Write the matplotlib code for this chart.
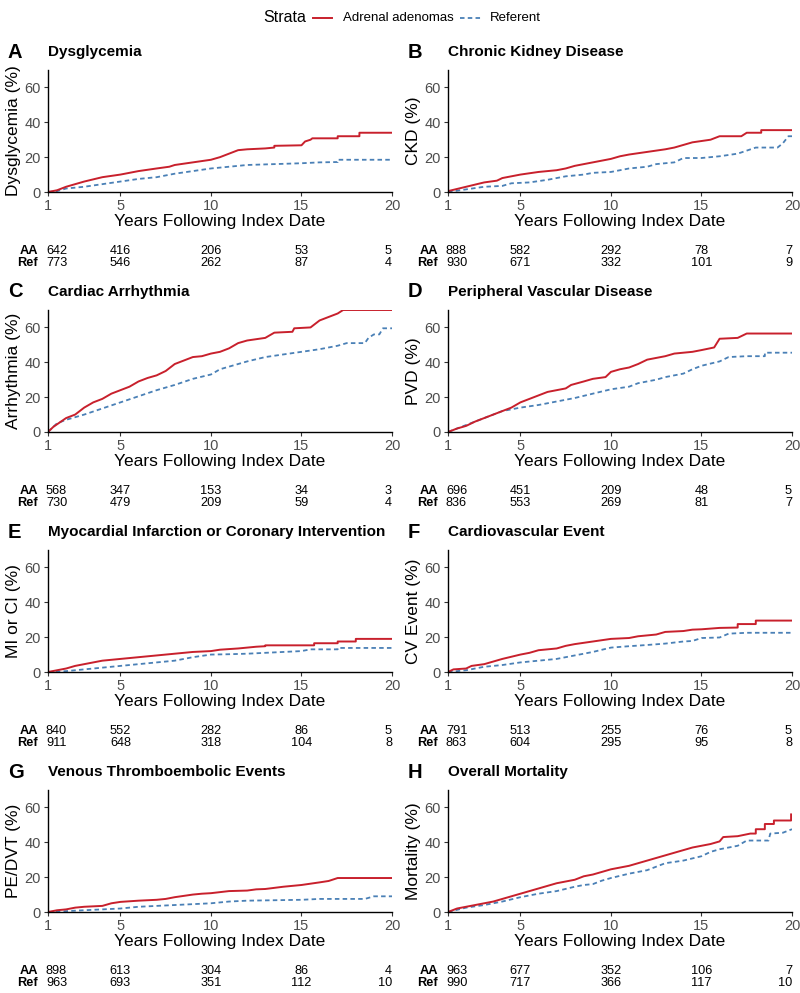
import numpy as np
import matplotlib
matplotlib.use('Agg')
import matplotlib.pyplot as plt
from matplotlib.lines import Line2D

plt.rcParams['font.family'] = ['Liberation Sans', 'DejaVu Sans']

## DATA ##
letters = ['A', 'B', 'C', 'D', 'E', 'F', 'G', 'H']
titles = ['Dysglycemia', 'Chronic Kidney Disease', 'Cardiac Arrhythmia',
          'Peripheral Vascular Disease',
          'Myocardial Infarction or Coronary Intervention',
          'Cardiovascular Event', 'Venous Thromboembolic Events',
          'Overall Mortality']
ylabels = ['Dysglycemia (%)', 'CKD (%)', 'Arrhythmia (%)', 'PVD (%)',
           'MI or CI (%)', 'CV Event (%)', 'PE/DVT (%)', 'Mortality (%)']
strata = ['Adrenal adenomas', 'Referent']
table_rows = ['AA', 'Ref']
table_years = [1, 5, 10, 15, 20]

# cumulative incidence (%): (year, value) pairs
aa_curves = [
    [(1, 0), (1.5, 1), (2, 3), (3, 6), (4, 8.5), (5, 10), (6, 12), (7, 13.5), (7.7, 14.5), (8, 15.5), (9, 17),
     (10, 18.5), (10.5, 20), (11, 22), (11.5, 24), (12, 24.5), (13, 25), (13.5, 25.5), (13.5, 26.5), (15, 26.8),
     (15.2, 29), (15.5, 30), (15.6, 30.8), (17, 30.8), (17, 32), (18.2, 32), (18.2, 34), (20, 34)],
    [(1, 0.5), (2, 3), (3, 5.5), (3.7, 6.5), (4, 8), (5, 10), (6, 11.5), (7, 12.5), (7.5, 13.5), (8, 15), (9, 17),
     (10, 19), (10.5, 20.5), (11, 21.5), (12, 23), (13, 24.5), (13.5, 25.5), (14, 27), (14.5, 28.5), (15.5, 30),
     (16, 32), (17.2, 32), (17.5, 34), (18.3, 34), (18.3, 35.5), (20, 35.5)],
    [(1, 0), (1.3, 3), (2, 8), (2.5, 10), (3, 14), (3.5, 17), (4, 19), (4.5, 22), (5, 24), (5.5, 26), (6, 29),
     (6.5, 31), (7, 32.5), (7.5, 35), (8, 39), (8.5, 41), (9, 43), (9.5, 43.5), (10, 45), (10.5, 46), (11, 48),
     (11.5, 51), (12, 52.5), (13, 54), (13.5, 57), (14.5, 57.5), (14.6, 59.5), (15.5, 60), (16, 64), (16.5, 66),
     (17, 68), (17.3, 70), (20, 70)],
    [(1, 0), (1.5, 2), (2, 3.5), (2.5, 6), (3, 8), (3.5, 10), (4, 12), (4.5, 14), (5, 17), (5.5, 19), (6, 21),
     (6.5, 23), (7, 24), (7.5, 25), (7.8, 27), (8.5, 29), (9, 30.5), (9.7, 31.5), (10, 34.5), (10.5, 36), (11, 37),
     (11.5, 39), (12, 41.5), (12.5, 42.5), (13, 43.5), (13.5, 45), (14.5, 46), (15, 47), (15.7, 48.5), (16, 53.5),
     (17, 54), (17.3, 55.5), (17.5, 56.5), (20, 56.5)],
    [(1, 0), (1.5, 1), (2, 2), (2.5, 3.5), (3, 4.5), (3.5, 5.5), (4, 6.5), (5, 7.5), (6, 8.5), (7, 9.5), (7.5, 10),
     (8, 10.5), (9, 11.5), (10, 12), (10.5, 12.8), (11.5, 13.5), (12.5, 14.5), (13, 14.8), (13, 15.3), (15.7, 15.3),
     (15.7, 16.5), (17, 16.5), (17, 17.5), (18, 17.5), (18, 19), (20, 19)],
    [(1, 0), (1.3, 1.5), (2, 2), (2.3, 3.5), (3, 4.5), (3.5, 6), (4, 7.5), (5, 10), (5.5, 11), (6, 12.5), (7, 13.5),
     (7.5, 15), (8, 16), (9, 17.5), (10, 19), (11, 19.5), (11.5, 20.5), (12, 21), (12.5, 21.5), (13, 23), (14, 23.5),
     (14.5, 24.3), (15, 24.5), (16, 25.3), (17, 25.5), (17, 27.5), (18, 27.5), (18, 29.5), (20, 29.5)],
    [(1, 0), (1.5, 1), (2, 1.5), (2.5, 2.5), (3, 3), (4, 3.5), (4.5, 5), (5, 5.8), (6, 6.5), (7, 7), (7.5, 7.5),
     (8, 8.5), (9, 10), (9.5, 10.5), (10, 10.8), (11, 12), (12, 12.3), (12.5, 13), (13, 13.2), (14, 14.5),
     (15, 15.5), (16, 17), (16.5, 17.8), (17, 19.5), (20, 19.5)],
    [(1, 0), (1.5, 2), (2, 3), (2.5, 4), (3, 5), (3.5, 6), (4, 7.5), (4.5, 9), (5, 10.5), (5.5, 12), (6, 13.5),
     (6.5, 15), (7, 16.5), (7.5, 17.5), (8, 18.5), (8.5, 20.5), (9, 21.5), (9.5, 23), (10, 24.5), (10.5, 25.5),
     (11, 26.5), (11.5, 28), (12, 29.5), (12.5, 31), (13, 32.5), (13.5, 34), (14, 35.5), (14.5, 37), (15, 38),
     (15.5, 39), (16, 40.5), (16.2, 43), (17, 43.5), (17.7, 45), (18, 45), (18, 47.5), (18.5, 47.5), (18.5, 50.5),
     (19, 50.5), (19, 52.5), (19.95, 52.5), (19.95, 56)],
]
ref_curves = [
    [(1, 0), (1.5, 0.5), (2, 2), (3, 3), (4, 4.5), (5, 6), (6, 7.5), (7, 8.5), (8, 10.5), (9, 12), (10, 13.5),
     (11, 14.5), (12, 15.5), (13.5, 16), (15, 16.5), (16, 17), (17, 17.2), (17, 18.5), (20, 18.5)],
    [(1, 0), (2, 1.5), (3, 3), (4, 3.5), (4.5, 5), (5.5, 5.5), (6.5, 7), (7.5, 9), (8.5, 10), (9, 11), (10, 11.5),
     (10.5, 12.5), (11, 13.5), (12, 14.5), (12.5, 16), (13.5, 17), (14, 19.5), (15, 19.5), (16, 20.5), (17, 22),
     (18, 25.5), (19.2, 25.5), (19.5, 28), (19.8, 32), (20, 32)],
    [(1, 0), (1.5, 5), (2, 7), (3, 10), (4, 13.5), (5, 17), (6, 20.5), (7, 24), (8, 27), (9, 30.5), (10, 33),
     (10.5, 36), (11, 37.5), (12, 40.5), (13, 43), (14, 44.5), (15, 46), (16, 47.5), (17, 49.5), (17.5, 51),
     (18.5, 51), (18.7, 54), (19, 56), (19.3, 56), (19.5, 59.5), (20, 59.5)],
    [(1, 0), (1.5, 2), (2, 4), (2.5, 6), (3, 8), (3.5, 10), (4, 12), (5, 14), (6, 15.5), (7, 17.5), (8, 19.5),
     (9, 22), (10, 24.5), (11, 26), (11.5, 28), (12.5, 30), (13, 31.5), (14, 33.5), (14.5, 36), (15, 38), (16, 40.5),
     (16.5, 43), (17.5, 43.5), (18.5, 43.5), (18.5, 45.5), (20, 45.5)],
    [(1, 0), (2, 0.5), (3, 1.5), (4, 2.5), (5, 3.5), (6, 4.5), (7, 5.5), (8, 6.5), (9, 8.5), (10, 10), (11, 10.2),
     (12, 10.5), (13, 11), (14, 11.5), (15, 12), (15.5, 13), (17, 13), (17, 13.8), (20, 13.8)],
    [(1, 0), (2, 1), (2.5, 2), (3, 3), (4, 4), (5, 5.5), (6, 6.5), (7, 7.5), (8, 9.5), (9, 11.5), (10, 14),
     (11, 14.8), (12, 15.5), (13, 16.3), (14, 17.5), (14.5, 17.8), (15, 19.5), (16, 19.8), (16.5, 22), (17.5, 22.5),
     (20, 22.5)],
    [(1, 0), (2, 0.5), (3, 1), (4, 1.5), (5, 2), (6, 3), (7, 3.5), (8, 4), (9, 4.5), (10, 5), (11, 6), (12, 6.5),
     (15, 7), (16, 7.5), (18.5, 7.5), (19, 9), (20, 9)],
    [(1, 0), (2, 2.5), (3, 4), (4, 6), (5, 8.5), (6, 10.5), (7, 12), (8, 14.5), (8.5, 15.5), (9, 16), (9.5, 18),
     (10, 19.5), (11, 22), (12, 24), (12.5, 26), (13, 28), (14, 29.5), (15, 32), (15.5, 34.5), (16, 36), (17, 38),
     (17.5, 41), (18.7, 41), (18.8, 45), (19.5, 45.5), (20, 47.5)],
]
aa_risk = [[642, 416, 206, 53, 5], [888, 582, 292, 78, 7], [568, 347, 153, 34, 3],
           [696, 451, 209, 48, 5], [840, 552, 282, 86, 5], [791, 513, 255, 76, 5],
           [898, 613, 304, 86, 4], [963, 677, 352, 106, 7]]
ref_risk = [[773, 546, 262, 87, 4], [930, 671, 332, 101, 9], [730, 479, 209, 59, 4],
            [836, 553, 269, 81, 7], [911, 648, 318, 104, 8], [863, 604, 295, 95, 8],
            [963, 693, 351, 112, 10], [990, 717, 366, 117, 10]]

red = '#C8202C'
blue = '#4A80B6'
dash = (0, (2.5, 1.8))

## PLOT ##
W, H = 800, 993
fig = plt.figure(figsize=(W / 100, H / 100), dpi=100)

def fx(px):
    return px / W

def fy(py):
    return 1 - py / H

col_x = [48, 448]
ax_w = 344
for i in range(8):
    row, col = i // 2, i % 2
    x0 = col_x[col]
    top = 70 + 240 * row
    bot = top + 122
    ax = fig.add_axes([fx(x0), fy(bot), fx(ax_w), (bot - top) / H])
    rt, rv = zip(*ref_curves[i])
    at, av = zip(*aa_curves[i])
    ax.plot(rt, rv, color=blue, lw=1.3, linestyle=dash)
    ax.plot(at, av, color=red, lw=1.4)
    ax.set_xlim(1, 20)
    ax.set_ylim(0, 70)
    ax.set_xticks(table_years)
    ax.set_yticks([0, 20, 40, 60])
    for s in ['top', 'right']:
        ax.spines[s].set_visible(False)
    for s in ['left', 'bottom']:
        ax.spines[s].set_linewidth(1.0)
        ax.spines[s].set_color('black')
    ax.tick_params(labelsize=10.5, labelcolor='#4D4D4D', color='#333333',
                   length=3, width=0.8, pad=2)
    ax.set_xlabel('Years Following Index Date', fontsize=12.5, labelpad=1)
    ax.set_ylabel(ylabels[i], fontsize=12.5, labelpad=3)

    # panel letter and title
    ty = top - 18
    fig.text(fx(x0 - 40), fy(ty), letters[i], fontsize=14.5, fontweight='bold',
             ha='left', va='center')
    fig.text(fx(x0), fy(ty), titles[i], fontsize=11, fontweight='bold',
             ha='left', va='center')

    # risk table
    for r, (name, vals) in enumerate(zip(table_rows, [aa_risk[i], ref_risk[i]])):
        yy = bot + 58.5 + 12.5 * r
        fig.text(fx(x0 - 10), fy(yy), name, fontsize=9.2, fontweight='bold',
                 ha='right', va='center')
        for k, (yr, v) in enumerate(zip(table_years, vals)):
            xp = x0 + (yr - 1) / 19 * ax_w
            ha = 'left' if k == 0 else ('right' if k == len(vals) - 1 else 'center')
            if k == 0:
                xp -= 2
            fig.text(fx(xp), fy(yy), str(v), fontsize=9.2, ha=ha, va='center')

# legend (drawn by hand to keep the ggplot layout: title left of the keys)
ly = fy(18)
fig.text(fx(263), ly, 'Strata', fontsize=11.5, ha='left', va='center')
fig.add_artist(Line2D([fx(313), fx(332)], [ly, ly], color=red, lw=1.4))
fig.text(fx(343), ly, strata[0], fontsize=9.5, ha='left', va='center')
fig.add_artist(Line2D([fx(460), fx(481)], [ly, ly], color=blue, lw=1.3, linestyle=dash))
fig.text(fx(490), ly, strata[1], fontsize=9.5, ha='left', va='center')

fig.savefig('out.png', dpi=100)
